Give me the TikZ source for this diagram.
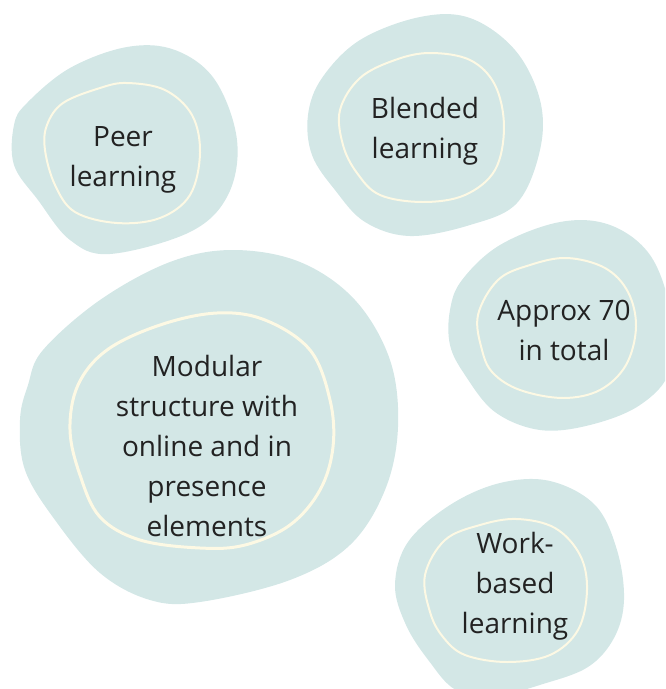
\documentclass[tikz,border=0pt]{standalone}
\usepackage{fontspec}
\setmainfont{Open Sans}
\definecolor{blobfill}{HTML}{D3E7E6}
\definecolor{ringcol}{HTML}{FDF9E4}
\definecolor{txtcol}{HTML}{222222}
\begin{document}
\begin{tikzpicture}[x=1pt,y=-1pt,
  blob/.style={fill=blobfill,draw=none},
  ring/.style={draw=ringcol,line width=2pt},
  label/.style={align=center,text=txtcol,font=\fontsize{28}{40}\selectfont,inner sep=0pt}]
\useasboundingbox (0,0) rectangle (665,689);
\begin{scope}
\clip (0,0) rectangle (665,689);
% Peer learning
\fill[blob] plot[smooth cycle,tension=0.6] coordinates {(27,103) (70,68) (127,47) (175,50) (215,80) (237,140) (228,195) (190,232) (110,254) (70,240) (38,200) (14,165) (14,125)};
\draw[ring] plot[smooth cycle,tension=0.6] coordinates {(63,103) (100,88) (127,83) (165,90) (192,115) (200,153) (190,195) (160,218) (117,223) (75,212) (55,185) (45,150) (47,125)};
% Blended learning
\fill[blob] plot[smooth cycle,tension=0.6] coordinates {(322,78) (360,40) (420,17) (470,18) (515,50) (540,100) (540,150) (517,203) (470,225) (410,236) (365,222) (335,190) (312,155) (308,115)};
\draw[ring] plot[smooth cycle,tension=0.6] coordinates {(360,78) (395,60) (430,53) (470,60) (495,85) (504,127) (495,170) (465,195) (423,202) (380,195) (357,173) (343,145) (340,110)};
% Modular
\fill[blob] plot[smooth cycle,tension=0.6] coordinates {(43,350) (100,300) (170,262) (233,250) (300,262) (355,300) (390,360) (398,427) (385,490) (350,545) (290,580) (200,602) (150,600) (100,573) (55,520) (25,470) (20,420) (28,385)};
\draw[ring,line width=3pt] plot[smooth cycle,tension=0.6] coordinates {(107,350) (160,325) (217,313) (265,320) (310,350) (330,400) (333,447) (320,490) (290,525) (245,545) (200,548) (140,540) (100,517) (80,475) (70,430) (78,385)};
% Approx 70
\fill[blob] plot[smooth cycle,tension=0.6] coordinates {(462,280) (500,245) (560,222) (610,225) (650,255) (670,310) (670,370) (640,405) (590,425) (540,430) (495,412) (465,375) (450,345) (450,310)};
\draw[ring] plot[smooth cycle,tension=0.6] coordinates {(498,280) (530,265) (567,258) (605,268) (628,292) (636,327) (626,365) (600,390) (563,398) (520,390) (493,373) (482,350) (478,315)};
% Work-based
\fill[blob] plot[smooth cycle,tension=0.6] coordinates {(408,542) (450,505) (500,483) (550,481) (595,505) (617,550) (624,600) (614,638) (588,667) (543,684) (495,696) (456,690) (429,661) (406,625) (395,585)};
\draw[ring] plot[smooth cycle,tension=0.6] coordinates {(445,540) (480,525) (517,519) (555,528) (580,555) (587,590) (578,630) (550,655) (507,662) (465,655) (443,637) (430,612) (425,575)};
\end{scope}
\node[label] (peer) at (123,160) {Peer\\learning};
\node[label] (blended) at (425,131) {Blended\\learning};
\node[label] (modular) at (207,446) {Modular\\structure with\\online and in\\presence\\elements};
\node[label] (approx) at (564,330) {Approx 70\\in total};
\node[label] (work) at (515,586) {Work-\\based\\learning};
\end{tikzpicture}
\end{document}
